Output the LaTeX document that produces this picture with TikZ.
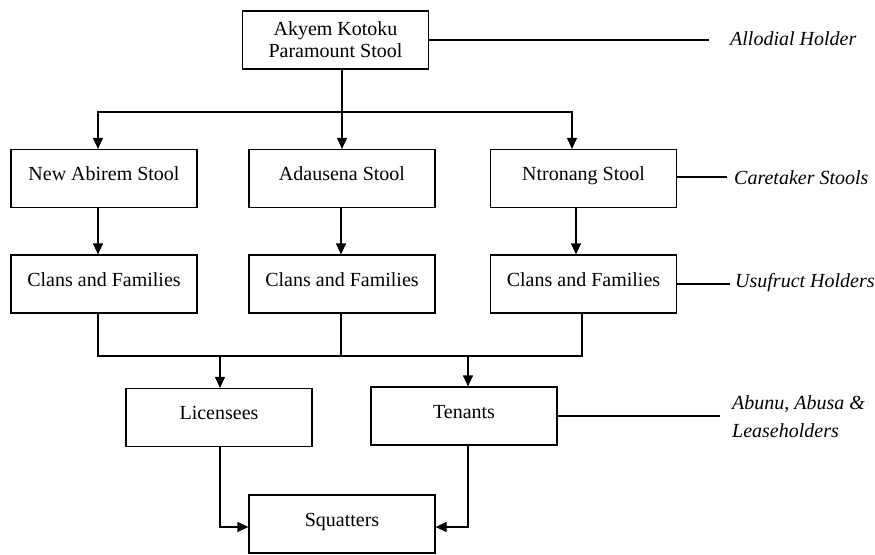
\documentclass[tikz,border=0pt]{standalone}
\usepackage{fontspec}
\setmainfont{Liberation Serif}
\usetikzlibrary{arrows.meta}
\begin{document}
\begin{tikzpicture}[x=1pt,y=-1pt,
  box/.style={draw, line width=1.2pt, minimum width=186pt, minimum height=58pt, inner sep=0pt, font=\fontsize{20}{22}\selectfont},
  upper/.style={text height=14pt, text depth=10pt},
  lab/.style={font=\fontsize{20}{28}\selectfont\itshape, inner sep=0pt, anchor=west, align=left},
  ln/.style={line width=1.2pt},
  arr/.style={ln, -{Triangle[length=11pt,width=10pt]}}]
\useasboundingbox (0,0) rectangle (875,554);
\node[box, align=center] (top) at (335.5,40) {Akyem Kotoku\\Paramount Stool};
\node[box, upper] (s1) at (104,178.5) {New Abirem Stool};
\node[box, upper] (s2) at (342,178.5) {Adausena Stool};
\node[box, upper] (s3) at (583.5,178.5) {Ntronang Stool};
\node[box, upper] (c1) at (104,284) {Clans and Families};
\node[box, upper] (c2) at (342,284) {Clans and Families};
\node[box, upper] (c3) at (583.5,284) {Clans and Families};
\node[box, upper] (lic) at (219,417.5) {Licensees};
\node[box, upper] (ten) at (464,416) {Tenants};
\node[box, upper] (sq) at (342,524) {Squatters};
\node[lab] (l1) at (730,39) {Allodial Holder};
\node[lab] (l2) at (734,178) {Caretaker Stools};
\node[lab] (l3) at (735,283) {Usufruct Holders};
\node[lab] (l4) at (732,417) {Abunu, Abusa \&\\Leaseholders};
\coordinate (j1) at (342,112);
\coordinate (j2) at (220,356);
\coordinate (j3) at (468,356);
\coordinate (k2) at (720,177);
% top to stools
\draw[arr] (top.south -| j1) -- (s2.north);
\draw[arr] (j1) -| ([xshift=-6pt]s1.north);
\draw[arr] (j1) -| ([xshift=-11.5pt]s3.north);
% stools to clans
\draw[arr] ([xshift=-6pt]s1.south) -- ([xshift=-6pt]c1.north);
\draw[arr] ([xshift=-1pt]s2.south) -- ([xshift=-1pt]c2.north);
\draw[arr] ([xshift=-7.5pt]s3.south) -- ([xshift=-7.5pt]c3.north);
% clans merge
\draw[ln] ([xshift=-6pt]c1.south) |- ([xshift=-1.5pt]c3.south |- j2) -- ([xshift=-1.5pt]c3.south);
\draw[ln] ([xshift=-1pt]c2.south) -- ([xshift=-1pt]c2.south |- j2);
\draw[arr] (j2) -- (lic.north -| j2);
\draw[arr] (j3) -- (ten.north -| j3);
% to squatters
\draw[arr] (lic.south -| j2) |- ([yshift=-3pt]sq.west);
\draw[arr] (ten.south -| j3) |- ([yshift=-3pt]sq.east);
% label lines
\draw[ln] (top.east) -- ([xshift=-21pt]l1.west |- top.east);
\draw[ln] (s3.east |- k2) -- ([xshift=-7pt]l2.west |- k2);
\draw[ln] (c3.east) -- ([xshift=-5pt]l3.west |- c3.east);
\draw[ln] (ten.east) -- ([xshift=-12pt]l4.west |- ten.east);
\end{tikzpicture}
\end{document}
